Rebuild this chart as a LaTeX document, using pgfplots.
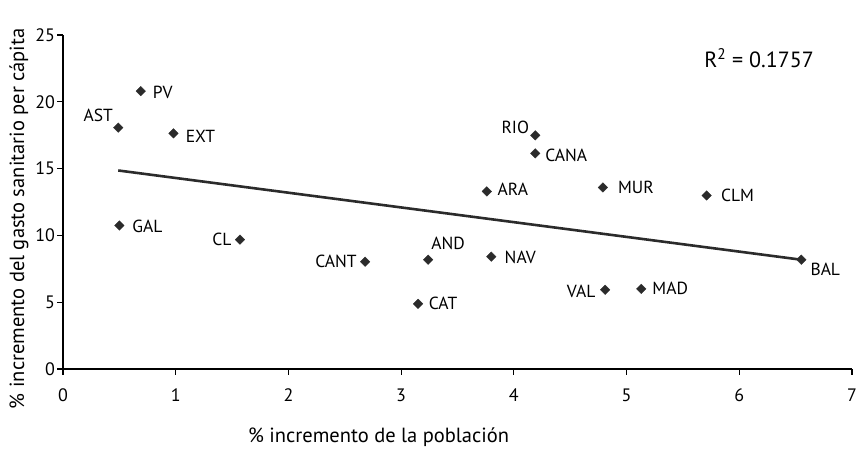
\documentclass[border=0pt]{standalone}
\usepackage{pgfplots}
\pgfplotsset{compat=1.18}
\usepackage{pgfplotstable}
\usepackage{fontspec}
\setmainfont{PT Sans}
\definecolor{mk}{HTML}{2B2B2B}
\pgfplotstableread{
x    y     lab   dx   dy
0.69 20.80 PV    22   -1
0.49 18.07 AST  -20   12
0.98 17.64 EXT   27   -3
0.50 10.74 GAL   28   -1
1.57 9.68  CL   -18    0
4.19 17.49 RIO  -20    8
4.19 16.14 CANA  31   -2
3.76 13.29 ARA   26    2
4.79 13.59 MUR   33    0
3.24 8.18  AND   20   16
3.80 8.41  NAV   29   -1
2.68 8.03  CANT -29    0
3.15 4.88  CAT   25    0
4.81 5.93  VAL  -24   -2
5.13 6.00  MAD   29    0
5.71 12.99 CLM   31    0
6.55 8.18  BAL   24  -10
}\datatable
\begin{document}
\begin{tikzpicture}
\begin{axis}[
  scale only axis,
  width=789pt, height=334pt,
  xmin=0, xmax=7, ymin=0, ymax=25,
  axis lines*=left,
  xtick={0,1,...,7}, ytick={0,5,...,25},
  tick align=outside,
  major tick length=5.5pt,
  axis line style={line width=1.5pt, black},
  tick style={line width=1.2pt, black},
  /pgf/number format/assume math mode=true,
  ticklabel style={font=\fontsize{18}{20}\selectfont},
  xticklabel style={yshift=-11pt},
  yticklabel style={xshift=1pt},
  label style={font=\fontsize{20.5}{22}\selectfont},
  xlabel={\% incremento de la población},
  ylabel={\% incremento del gasto sanitario per cápita},
  xlabel style={at={(axis description cs:0.40,0)}, anchor=center, yshift=-68pt},
  ylabel style={at={(axis description cs:0,0.45)}, anchor=center, yshift=44pt},
  clip=false,
]
\addplot[line width=2.6pt, color=mk] coordinates {(0.49,14.86) (6.55,8.18)};
\addplot[only marks, mark=square*, mark size=3.4pt,
  mark options={rotate=45, fill=mk, draw=mk, line width=0.3pt},
  nodes near coords, point meta=explicit symbolic,
  visualization depends on={\thisrow{dx}\as\dx},
  visualization depends on={\thisrow{dy}\as\dy},
  nodes near coords style={anchor=center, xshift=\dx pt, yshift=\dy pt,
    font=\fontsize{17.5}{20}\selectfont, text=black, inner sep=0pt}]
  table[x=x, y=y, meta=lab]{\datatable};
\node[font=\fontsize{22}{24}\selectfont, anchor=center] at (axis cs:6.175,23.25) {R\textsuperscript{2} = 0.1757};
\end{axis}
\pgfresetboundingbox
\path (current axis.south west) ++(-63pt,-79pt) rectangle ([shift={(11pt,35pt)}]current axis.north east);
\end{tikzpicture}
\end{document}
